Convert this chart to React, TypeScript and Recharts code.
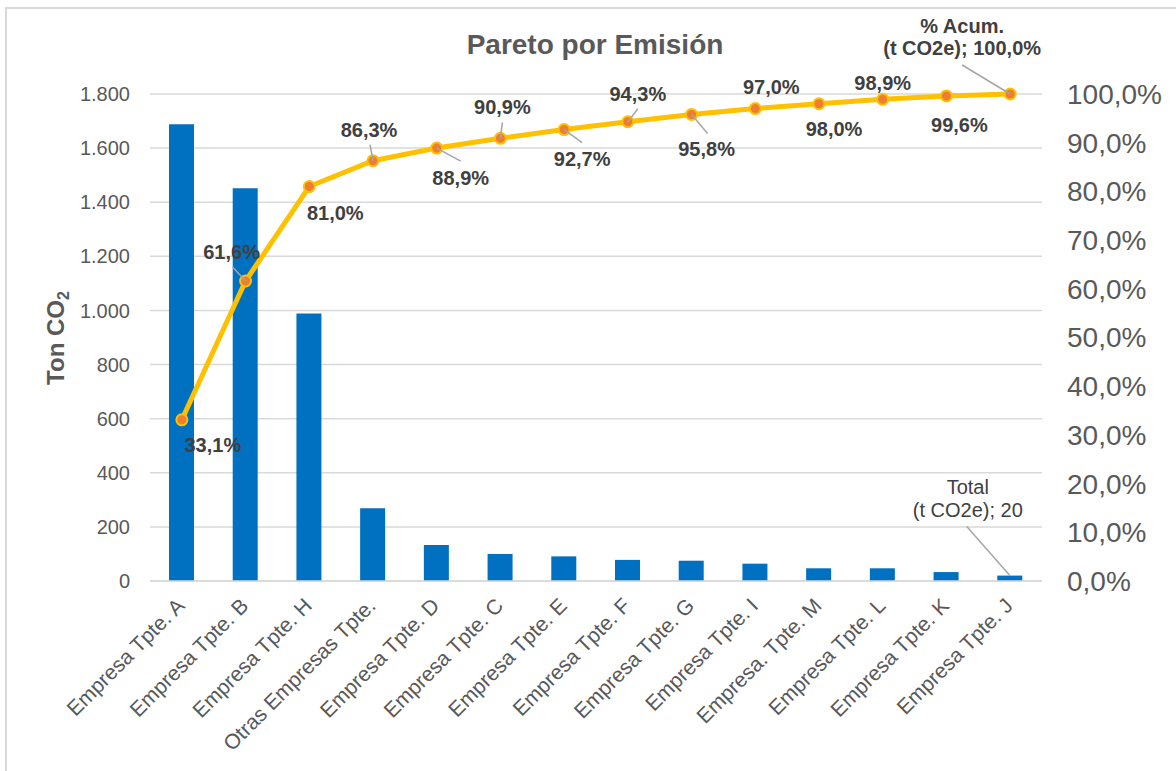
import React from "react";
import {
  ComposedChart,
  Bar,
  Line,
  XAxis,
  YAxis,
  CartesianGrid,
  LabelList,
} from "recharts";

const categories = [
  "Empresa Tpte. A",
  "Empresa Tpte. B",
  "Empresa Tpte. H",
  "Otras Empresas Tpte.",
  "Empresa Tpte. D",
  "Empresa Tpte. C",
  "Empresa Tpte. E",
  "Empresa Tpte. F",
  "Empresa Tpte. G",
  "Empresa Tpte. I",
  "Empresa. Tpte. M",
  "Empresa Tpte. L",
  "Empresa Tpte. K",
  "Empresa Tpte. J",
];

// t CO2e per company
const emissions = [1688, 1452, 989, 269, 133, 100, 91, 78, 75, 64, 47, 47, 33, 20];

// cumulative share, %
const cumulative = [33.1, 61.6, 81.0, 86.3, 88.9, 90.9, 92.7, 94.3, 95.8, 97.0, 98.0, 98.9, 99.6, 100.0];

const tonTicks = [0, 200, 400, 600, 800, 1000, 1200, 1400, 1600, 1800];
const pctTicks = [0, 10, 20, 30, 40, 50, 60, 70, 80, 90, 100];

const data = categories.map((name, i) => ({
  name,
  emission: emissions[i],
  acum: cumulative[i],
}));

const FONT = "'Liberation Sans', Arial, sans-serif";
const AXIS_GRAY = "#595959";
const LABEL_GRAY = "#404040";
const LEADER = "#A6A6A6";

// label placement around each point: text centre offset + optional leader end
const pctLabelLayout: { dx: number; dy: number; leader?: [number, number] }[] = [
  { dx: 31, dy: 25 },
  { dx: -14, dy: -29, leader: [-13, -14] },
  { dx: 26, dy: 26 },
  { dx: -4, dy: -31, leader: [-3, -16] },
  { dx: 24, dy: 30, leader: [24, 13] },
  { dx: 2, dy: -31, leader: [2, -16] },
  { dx: 18, dy: 29, leader: [18, 13] },
  { dx: 10, dy: -28, leader: [10, -13] },
  { dx: 15, dy: 35, leader: [16, 19] },
  { dx: 16, dy: -22 },
  { dx: 15, dy: 25 },
  { dx: 0, dy: -16 },
  { dx: 13, dy: 29 },
  { dx: -48, dy: -50, leader: [-48, -29] },
];

const fmtTon = (v: number) => String(v).replace(/\B(?=(\d{3})+(?!\d))/g, ".");
const fmtPct = (v: number) => v.toFixed(1).replace(".", ",") + "%";

const CategoryTick = ({ x, y, payload }: any) => (
  <text
    x={x + 4}
    y={y + 26}
    transform={`rotate(-45, ${x + 4}, ${y + 26})`}
    textAnchor="end"
    fontFamily={FONT}
    fontSize={21}
    fill={AXIS_GRAY}
  >
    {payload.value}
  </text>
);

const PctLabel = (props: any) => {
  const { x, y, index, value } = props;
  const l = pctLabelLayout[index];
  if (!l) return null;
  const cx = x + l.dx;
  const cy = y + l.dy;
  const leader = l.leader ? (
    <line x1={x} y1={y} x2={x + l.leader[0]} y2={y + l.leader[1]} stroke={LEADER} strokeWidth={1.5} />
  ) : null;
  if (index === cumulative.length - 1) {
    return (
      <g>
        {leader}
        <text x={cx} y={y - 61} textAnchor="middle" fontFamily={FONT} fontSize={20} fontWeight="bold" fill={LABEL_GRAY}>
          % Acum.
        </text>
        <text x={cx} y={y - 39} textAnchor="middle" fontFamily={FONT} fontSize={20} fontWeight="bold" fill={LABEL_GRAY}>
          {`(t CO2e); ${fmtPct(value)}`}
        </text>
      </g>
    );
  }
  return (
    <g>
      {leader}
      <text x={cx} y={cy + 7} textAnchor="middle" fontFamily={FONT} fontSize={20} fontWeight="bold" fill={LABEL_GRAY}>
        {fmtPct(value)}
      </text>
    </g>
  );
};

const TotalLabel = (props: any) => {
  const { x, y, width, index, value } = props;
  if (index !== emissions.length - 1) return null;
  const cx = x + width / 2;
  return (
    <g>
      <line x1={cx - 43} y1={y - 49} x2={cx} y2={y} stroke={LEADER} strokeWidth={1.5} />
      <text x={cx - 42} y={y - 82} textAnchor="middle" fontFamily={FONT} fontSize={20} fill={LABEL_GRAY}>
        Total
      </text>
      <text x={cx - 42} y={y - 59} textAnchor="middle" fontFamily={FONT} fontSize={20} fill={LABEL_GRAY}>
        {`(t CO2e); ${value}`}
      </text>
    </g>
  );
};

export default function App() {
  return (
    <div style={{ position: "absolute", left: 0, top: 0, width: 1176, height: 771, background: "#fff" }}>
      <div
        style={{
          position: "absolute",
          left: 5,
          top: 7,
          width: 1200,
          height: 800,
          borderLeft: "2px solid #D9D9D9",
          borderTop: "2px solid #D9D9D9",
        }}
      />
      <ComposedChart
        width={1176}
        height={771}
        data={data}
        margin={{ top: 94, right: 0, bottom: 0, left: 0 }}
        style={{ position: "absolute", left: 0, top: 0 }}
      >
        <CartesianGrid vertical={false} stroke="#D9D9D9" strokeWidth={1.5} />
        <XAxis
          dataKey="name"
          height={190}
          interval={0}
          tickLine={false}
          tickSize={0}
          tickMargin={0}
          axisLine={{ stroke: "#D9D9D9", strokeWidth: 1.5 }}
          tick={<CategoryTick />}
        />
        <YAxis
          width={150}
          domain={[0, 1800]}
          ticks={tonTicks}
          tickFormatter={fmtTon}
          axisLine={false}
          tickLine={false}
          tickSize={0}
          tickMargin={20}
          tick={{ fill: AXIS_GRAY, fontSize: 20, fontFamily: FONT }}
        />
        <YAxis
          yAxisId="pct"
          orientation="right"
          width={134}
          domain={[0, 100]}
          ticks={pctTicks}
          tickFormatter={fmtPct}
          axisLine={false}
          tickLine={false}
          tickSize={0}
          tickMargin={25}
          tick={{ fill: AXIS_GRAY, fontSize: 28, fontFamily: FONT, textAnchor: "start" }}
        />
        <Bar dataKey="emission" fill="#0070C0" barSize={25} isAnimationActive={false}>
          <LabelList dataKey="emission" content={<TotalLabel />} />
        </Bar>
        <Line
          yAxisId="pct"
          dataKey="acum"
          stroke="#FFC000"
          strokeWidth={5}
          dot={{ r: 5.5, fill: "#ED7D31", stroke: "#FFC000", strokeWidth: 2 }}
          activeDot={false}
          isAnimationActive={false}
        >
          <LabelList dataKey="acum" content={<PctLabel />} />
        </Line>
      </ComposedChart>
      <svg width={1176} height={771} style={{ position: "absolute", left: 0, top: 0, pointerEvents: "none" }}>
        <text x={595} y={54} textAnchor="middle" fontFamily={FONT} fontSize={28} fontWeight="bold" fill={AXIS_GRAY}>
          Pareto por Emisión
        </text>
        <text
          transform="translate(64, 338) rotate(-90)"
          textAnchor="middle"
          fontFamily={FONT}
          fontSize={24}
          fontWeight="bold"
          fill={AXIS_GRAY}
        >
          Ton CO
          <tspan fontSize={16} dy={5}>
            2
          </tspan>
        </text>
      </svg>
    </div>
  );
}
